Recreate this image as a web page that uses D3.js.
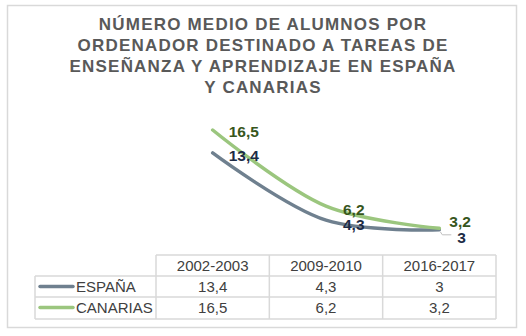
<!DOCTYPE html>
<html>
<head>
<meta charset="utf-8">
<script src="https://cdn.jsdelivr.net/npm/d3@7"></script>
<style>
  body { margin: 0; background: #fff; }
  text { font-family: "Liberation Sans", Arial, sans-serif; }
</style>
</head>
<body>
<div id="chart"></div>
<script>
// data
const periods = ["2002-2003", "2009-2010", "2016-2017"];
const seriesNames = ["ESPAÑA", "CANARIAS"];
const espana = [13.4, 4.3, 3];
const canarias = [16.5, 6.2, 3.2];
const titleLines = [
    "NÚMERO MEDIO DE ALUMNOS POR",
    "ORDENADOR DESTINADO A TAREAS DE",
    "ENSEÑANZA Y APRENDIZAJE EN ESPAÑA",
    "Y CANARIAS"
];

const width = 526, height = 336;
const lineColors = ["#6f808f", "#9bc67e"];
const labelColors = ["#1d2b45", "#37561c"];
const fmt = v => String(v).replace(".", ",");

const svg = d3.select("#chart")
    .append("svg")
    .attr("width", width)
    .attr("height", height);

// outer frame
svg.append("rect")
    .attr("x", 7.5).attr("y", 5.5)
    .attr("width", 509).attr("height", 322)
    .attr("fill", "#fff")
    .attr("stroke", "#d9d9d9")
    .attr("stroke-width", 1.5);

// title
svg.append("g")
    .selectAll("text")
    .data(titleLines)
    .enter()
    .append("text")
    .attr("x", 263)
    .attr("y", (d, i) => 30 + i * 21)
    .attr("text-anchor", "middle")
    .style("font-size", "17px")
    .style("font-weight", "bold")
    .style("letter-spacing", "1.2px")
    .style("fill", "#595959")
    .text(d => d);

// table geometry
const tableLeft = 35, firstCol = 156, tableRight = 496;
const rowTops = [255, 276, 297, 319];

// x: one band per period, same as the table columns
const x = d3.scaleBand()
    .domain(periods)
    .range([firstCol, tableRight]);

const y = d3.scaleLinear()
    .domain([0, 16.5])
    .range([252, 130]);

const series = [espana, canarias];

const line = d3.line()
    .x((d, i) => x(periods[i]) + x.bandwidth() / 2)
    .y(d => y(d))
    .curve(d3.curveCatmullRom.alpha(0.5));

svg.append("g")
    .selectAll("path")
    .data(series)
    .enter()
    .append("path")
    .attr("d", d => line(d))
    .attr("fill", "none")
    .attr("stroke", (d, i) => lineColors[i])
    .attr("stroke-width", 3.5)
    .attr("stroke-linecap", "round");

// data labels (offsets nudged by hand like in the original)
const labelOffsets = [
    [[16, 3], [17, 5], [18, 8]],
    [[16, 2], [17, 4], [10, -6]]
];

// small leader for the last España label
const lastX = x(periods[2]) + x.bandwidth() / 2;
const lastY = y(espana[2]);
svg.append("path")
    .attr("d", `M${lastX + 1},${lastY + 2} L${lastX + 3},${lastY + 5} L${lastX + 12},${lastY + 5}`)
    .attr("fill", "none")
    .attr("stroke", "#bfbfbf")
    .attr("stroke-width", 1);

series.forEach((vals, s) => {
    svg.append("g")
        .selectAll("text")
        .data(vals)
        .enter()
        .append("text")
        .attr("x", (d, i) => x(periods[i]) + x.bandwidth() / 2 + labelOffsets[s][i][0])
        .attr("y", (d, i) => y(d) + labelOffsets[s][i][1] + 5)
        .style("font-size", "15.5px")
        .style("font-weight", "bold")
        .style("fill", labelColors[s])
        .text(d => fmt(d));
});

// data table
const grid = svg.append("g")
    .attr("stroke", "#d9d9d9")
    .attr("stroke-width", 1.5);

// horizontal rules
grid.append("line")
    .attr("x1", firstCol).attr("x2", tableRight)
    .attr("y1", rowTops[0]).attr("y2", rowTops[0]);
rowTops.slice(1).forEach(t => {
    grid.append("line")
        .attr("x1", tableLeft).attr("x2", tableRight)
        .attr("y1", t).attr("y2", t);
});
// vertical rules
grid.append("line")
    .attr("x1", tableLeft).attr("x2", tableLeft)
    .attr("y1", rowTops[1]).attr("y2", rowTops[3]);
periods.forEach(p => {
    grid.append("line")
        .attr("x1", x(p)).attr("x2", x(p))
        .attr("y1", rowTops[0]).attr("y2", rowTops[3]);
});
grid.append("line")
    .attr("x1", tableRight).attr("x2", tableRight)
    .attr("y1", rowTops[0]).attr("y2", rowTops[3]);

// header
svg.append("g")
    .selectAll("text")
    .data(periods)
    .enter()
    .append("text")
    .attr("x", d => x(d) + x.bandwidth() / 2)
    .attr("y", 271)
    .attr("text-anchor", "middle")
    .style("font-size", "15px")
    .style("fill", "#404040")
    .text(d => d);

series.forEach((vals, s) => {
    const rowY = rowTops[s + 1] + 16;
    // legend key
    svg.append("line")
        .attr("x1", 40).attr("x2", 73)
        .attr("y1", rowY - 5.5).attr("y2", rowY - 5.5)
        .attr("stroke", lineColors[s])
        .attr("stroke-width", 3.5)
        .attr("stroke-linecap", "round");
    svg.append("text")
        .attr("x", 76)
        .attr("y", rowY)
        .style("font-size", "15px")
        .style("fill", "#404040")
        .text(seriesNames[s]);
    svg.append("g")
        .selectAll("text")
        .data(vals)
        .enter()
        .append("text")
        .attr("x", (d, i) => x(periods[i]) + x.bandwidth() / 2)
        .attr("y", rowY)
        .attr("text-anchor", "middle")
        .style("font-size", "15px")
        .style("fill", "#404040")
        .text(d => fmt(d));
});
</script>
</body>
</html>
